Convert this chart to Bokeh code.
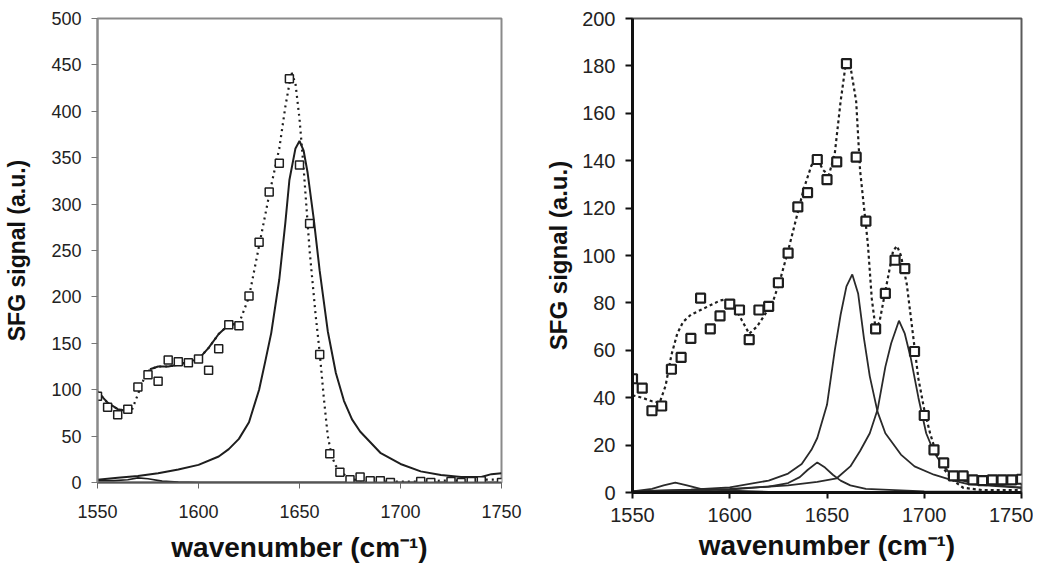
from bokeh.plotting import figure
from bokeh.layouts import row
from bokeh.models import Range1d, FixedTicker
from bokeh.embed import file_html
from bokeh.resources import INLINE

# ---------------- data: left panel ----------------
left_x = [1550, 1555, 1560, 1565, 1570, 1575, 1580, 1585, 1590, 1595, 1600, 1605, 1610,
          1615, 1620, 1625, 1630, 1635, 1640, 1645, 1650, 1655, 1660, 1665, 1670, 1675,
          1680, 1685, 1690, 1695, 1710, 1715, 1725, 1730, 1735, 1740, 1750]
left_sig = [93, 81, 73, 79, 103, 116, 109, 132, 130, 129, 133, 121, 144,
            170, 169, 201, 259, 313, 344, 435, 342, 279, 138, 31, 11, 3,
            6, 2, 2, 0, 1, 0, 1, 0, 1, 2, 0]

left_fit_x = [1550, 1555, 1560, 1565, 1567, 1570, 1573, 1576, 1580, 1585, 1590, 1595, 1600,
              1605, 1610, 1615, 1620, 1625, 1630, 1635, 1640, 1643, 1646, 1648, 1650, 1652,
              1655, 1658, 1660, 1662, 1664, 1666, 1668, 1670, 1675, 1680, 1690, 1700, 1710,
              1720, 1730, 1740, 1750]
left_fit_y = [98, 86, 79, 77, 78, 95, 112, 122, 125, 125, 127, 130, 133,
              145, 160, 170, 171, 200, 255, 310, 360, 405, 442, 430, 392, 340,
              250, 180, 140, 92, 50, 28, 18, 12, 4, 2, 1, 1, 1,
              2, 2, 3, 3]

left_peak_x = [1550, 1560, 1570, 1580, 1590, 1600, 1610, 1615, 1620, 1625, 1630, 1633, 1636,
               1640, 1643, 1645, 1648, 1650, 1652, 1654, 1657, 1660, 1664, 1668, 1672, 1676,
               1680, 1690, 1700, 1710, 1720, 1730, 1740, 1745, 1750]
left_peak_y = [3, 5, 7, 10, 14, 19, 28, 36, 47, 65, 100, 130, 161,
               219, 280, 326, 360, 368, 358, 334, 285, 228, 163, 118, 88, 68,
               55, 32, 20, 12, 8, 6, 6, 9, 10]

left_small_x = [1550, 1558, 1565, 1570, 1575, 1582, 1590, 1600, 1650, 1700, 1750]
left_small_y = [2, 2, 3, 5, 4, 1.5, 0.5, 0, 0, 0, 0]

left_x_ticks = [1550, 1600, 1650, 1700, 1750]
left_y_ticks = [0, 50, 100, 150, 200, 250, 300, 350, 400, 450, 500]

# ---------------- data: right panel ----------------
right_x = [1550, 1555, 1560, 1565, 1570, 1575, 1580, 1585, 1590, 1595, 1600, 1605, 1610,
           1615, 1620, 1625, 1630, 1635, 1640, 1645, 1650, 1655, 1660, 1665, 1670, 1675,
           1680, 1685, 1690, 1695, 1700, 1705, 1710, 1715, 1720, 1725, 1730, 1735, 1740,
           1745, 1750]
right_sig = [48, 44, 34.5, 36.5, 52, 57, 65, 82, 69, 74.5, 79.5, 77, 64.5,
             77, 78.5, 88.5, 101, 120.5, 126.5, 140.5, 132, 139.5, 181, 141.5, 114.5, 69,
             84, 98, 94.5, 59.5, 32.5, 18, 12.5, 7, 7, 5.3, 5, 5.3, 5.3,
             5.3, 5.6]

right_fit_x = [1550, 1555, 1560, 1564, 1567, 1570, 1573, 1576, 1580, 1585, 1590, 1595, 1598,
               1602, 1606, 1610, 1614, 1618, 1622, 1626, 1630, 1634, 1638, 1642, 1645, 1648,
               1651, 1654, 1657, 1660, 1662, 1665, 1667, 1671, 1673, 1675, 1677, 1680, 1684,
               1686, 1688, 1691, 1694, 1697, 1700, 1703, 1706, 1710, 1715, 1720, 1730, 1740,
               1750]
right_fit_y = [41, 40, 38.5, 38, 45, 58, 67, 72, 75, 77, 79, 81, 81.5,
               79, 73, 67, 70, 75, 80, 90, 102, 115, 128, 138, 141, 136,
               134, 143, 165, 183, 180, 165, 136, 105, 82, 69, 72, 85, 102,
               104, 100, 88, 68, 48, 35, 25, 17, 10, 5, 2, 1, 1,
               1]

comp_a_x = [1550, 1580, 1600, 1620, 1630, 1637, 1642, 1645, 1650, 1654, 1657, 1660, 1663,
            1666, 1669, 1672, 1676, 1680, 1688, 1695, 1705, 1715, 1722, 1735, 1750]
comp_a_y = [0.5, 1.2, 2.2, 5, 8, 12, 18, 23, 37, 60, 75, 87, 92,
            84, 65, 49, 34, 25, 16, 11, 7.5, 5, 3.6, 2.8, 2]

comp_b_x = [1550, 1600, 1630, 1645, 1655, 1662, 1667, 1672, 1676, 1680, 1683, 1687, 1690,
            1693, 1697, 1701, 1705, 1709, 1715, 1722, 1731, 1750]
comp_b_y = [0.5, 1.5, 3, 4.5, 6, 11, 17.5, 25, 35, 53, 63, 72.5, 67,
            57, 40, 25, 17, 12, 6.5, 4.5, 3.5, 2]

comp_c_x = [1550, 1600, 1620, 1630, 1636, 1640, 1645, 1649, 1653, 1657, 1662, 1670, 1700, 1750]
comp_c_y = [0.3, 1.2, 2.5, 4, 6.5, 9.5, 12.7, 10.5, 7.5, 5, 3, 1.5, 0.5, 0.2]

comp_d_x = [1550, 1560, 1566, 1572, 1578, 1585, 1600, 1620, 1750]
comp_d_y = [0.5, 1.5, 3, 4.2, 3, 1.5, 0.8, 0.3, 0]

right_x_ticks = [1550, 1600, 1650, 1700, 1750]
right_y_ticks = [0, 20, 40, 60, 80, 100, 120, 140, 160, 180, 200]

INK = "#1e1e1e"
FONT = "Liberation Sans"


def style_axes(p, xt, yt, tick_size, xlab_size, ylab_size):
    p.xgrid.visible = False
    p.ygrid.visible = False
    p.xaxis.ticker = FixedTicker(ticks=xt)
    p.yaxis.ticker = FixedTicker(ticks=yt)
    for ax in (p.xaxis[0], p.yaxis[0]):
        ax.major_tick_in = 0
        ax.minor_tick_line_color = None
        ax.major_label_text_font = FONT
        ax.major_label_text_font_size = tick_size
        ax.major_label_text_color = "#222222"
        ax.axis_label_text_font = FONT
        ax.axis_label_text_font_style = "bold"
        ax.axis_label_text_color = "#111111"
    p.xaxis.axis_label = "wavenumber (cm\u207b\u00b9)"
    p.yaxis.axis_label = "SFG signal (a.u.)"
    p.xaxis.axis_label_text_font_size = xlab_size
    p.yaxis.axis_label_text_font_size = ylab_size


# ---------------- left figure ----------------
p1 = figure(frame_width=404, frame_height=464,
            min_border_left=97, min_border_right=29, min_border_top=18, min_border_bottom=40,
            x_range=Range1d(1550, 1750), y_range=Range1d(0, 500),
            output_backend="svg", toolbar_location=None)
p1.outline_line_color = "#8a8a8a"
p1.outline_line_width = 2
p1.outline_line_alpha = 1
style_axes(p1, left_x_ticks, left_y_ticks, "18px", "28px", "23px")
p1.yaxis.axis_line_color = "#8a8a8a"
p1.yaxis.axis_line_width = 2
p1.yaxis.major_tick_line_color = "#777777"
p1.yaxis.major_tick_out = 6
p1.yaxis.major_label_standoff = 10
p1.yaxis.axis_label_standoff = 18
p1.xaxis.axis_line_color = "#555555"
p1.xaxis.axis_line_width = 2
p1.xaxis.major_tick_line_color = "#666666"
p1.xaxis.major_tick_out = 6
p1.xaxis.major_label_standoff = 16
p1.xaxis.axis_label_standoff = 11

p1.line(left_small_x, left_small_y, line_color=INK, line_width=1.6)
p1.line(left_peak_x, left_peak_y, line_color=INK, line_width=2)
p1.line(left_fit_x, left_fit_y, line_color=INK, line_width=2.2, line_dash="2 4")
p1.line(left_fit_x[0:5], left_fit_y[0:5], line_color=INK, line_width=2)
p1.line(left_fit_x[7:17], left_fit_y[7:17], line_color=INK, line_width=2)
p1.scatter(left_x, left_sig, marker="square", size=8, fill_color="white",
           line_color=INK, line_width=1.5)

# ---------------- right figure ----------------
p2 = figure(frame_width=389, frame_height=474,
            min_border_left=102, min_border_right=12, min_border_top=17, min_border_bottom=40,
            x_range=Range1d(1550, 1750), y_range=Range1d(0, 200),
            output_backend="svg", toolbar_location=None)
p2.outline_line_color = "#5a5a5a"
p2.outline_line_width = 2
p2.outline_line_alpha = 1
style_axes(p2, right_x_ticks, right_y_ticks, "20px", "28px", "24px")
p2.yaxis.axis_line_color = "#111111"
p2.yaxis.axis_line_width = 3
p2.yaxis.major_tick_line_color = "#111111"
p2.yaxis.major_tick_line_width = 2
p2.yaxis.major_tick_out = 7
p2.yaxis.major_label_standoff = 10
p2.yaxis.axis_label_standoff = 7
p2.xaxis.axis_line_color = "#111111"
p2.xaxis.axis_line_width = 3
p2.xaxis.major_tick_line_color = "#111111"
p2.xaxis.major_tick_line_width = 2
p2.xaxis.major_tick_out = 6
p2.xaxis.major_label_standoff = 9
p2.xaxis.axis_label_standoff = 5

for cx, cy in ((comp_d_x, comp_d_y), (comp_c_x, comp_c_y), (comp_a_x, comp_a_y), (comp_b_x, comp_b_y)):
    p2.line(cx, cy, line_color="#2a2a2a", line_width=1.8)
p2.line(right_fit_x, right_fit_y, line_color=INK, line_width=2.2, line_dash="3 3")
p2.scatter(right_x, right_sig, marker="square", size=9, fill_color="white",
           line_color=INK, line_width=2.2)

layout = row(p1, p2)
open("out.html", "w").write(file_html(layout, INLINE))
